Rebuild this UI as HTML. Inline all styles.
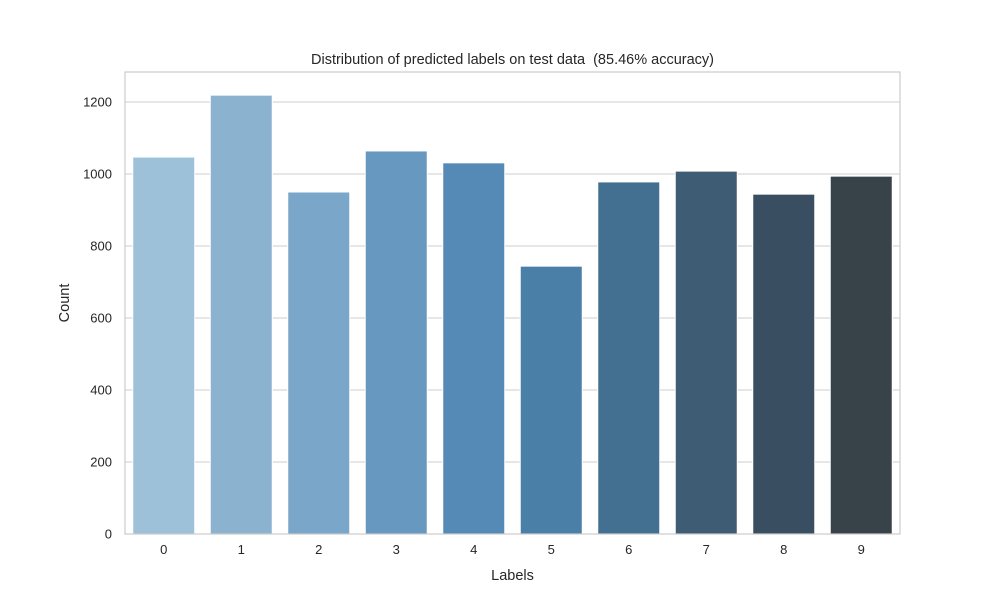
<!DOCTYPE html>
<html><head><meta charset="utf-8"><style>
body{margin:0;background:#fff;font-family:"Liberation Sans","DejaVu Sans",sans-serif;}
svg text{font-family:"Liberation Sans","DejaVu Sans",sans-serif;fill:#262626;}
</style></head><body>
<svg id="chart" width="1000" height="600" xmlns="http://www.w3.org/2000/svg"></svg>
<script>
const categories = ["0","1","2","3","4","5","6","7","8","9"];
const counts = [1047, 1219, 950, 1064, 1031, 744, 978, 1008, 944, 994];
const yTicks = [0, 200, 400, 600, 800, 1000, 1200];
const colors = ["#9dc1d8","#8bb3cf","#79a6c9","#6798bf","#548ab5","#4a7fa8","#436f90","#3e5c74","#3a4e62","#374349"];

const NS="http://www.w3.org/2000/svg";
const svg=document.getElementById('chart');
const L=125,R=900,T=72,B=534,yMax=1283.3;
const y=v=>B-(v/yMax)*(B-T);
const slot=(R-L)/categories.length;
const x=i=>L+slot*i+slot/2;
function mk(tag,attrs,parent){const e=document.createElementNS(NS,tag);for(const k in attrs)e.setAttribute(k,attrs[k]);(parent||svg).appendChild(e);return e;}

const grid=mk('g',{});


yTicks.forEach(t=>{
  const ln=mk('line',{x1:L,x2:R,y1:y(t),y2:y(t),stroke:'#cccccc','stroke-width':1},grid);
  
  
  const tx=mk('text',{x:L-13,y:y(t)+4.5,'text-anchor':'end','font-size':13});
  tx.textContent=t;
  
  
});
counts.forEach((v,i)=>{
  const w=slot*0.8;
  const r=mk('rect',{x:x(i)-w/2,y:y(v),width:w,height:B-y(v),fill:colors[i],stroke:'#ffffff','stroke-width':1});
  
  
  const tx=mk('text',{x:x(i),y:B+20,'text-anchor':'middle','font-size':13});
  tx.textContent=categories[i];
  
  
});
const frame=mk('rect',{x:L,y:T,width:R-L,height:B-T,fill:'none',stroke:'#cccccc','stroke-width':1.2});


const title=mk('text',{x:(L+R)/2,y:64,'text-anchor':'middle','font-size':14.5,style:'white-space:pre'});
title.textContent='Distribution of predicted labels on test data  (85.46% accuracy)';


const xl=mk('text',{x:(L+R)/2,y:580,'text-anchor':'middle','font-size':14.5});
xl.textContent='Labels';


const yl=mk('text',{x:0,y:0,'text-anchor':'middle','font-size':14.5,transform:`translate(69,${(T+B)/2}) rotate(-90)`});
yl.textContent='Count';


</script>
</body></html>
